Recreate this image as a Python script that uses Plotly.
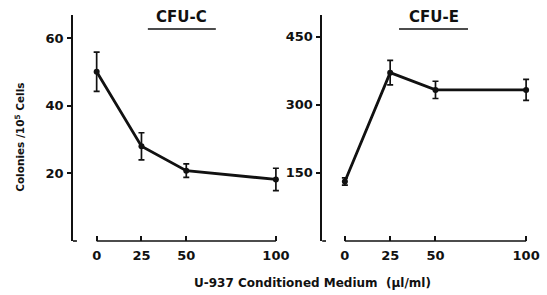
import plotly.graph_objects as go

# Data
dose = [0, 25, 50, 100]
cfu_c = [50, 28, 20.8, 18.2]
cfu_c_err = [5.8, 4.0, 2.0, 3.3]
cfu_e = [131, 371, 333, 333]
cfu_e_err = [8, 27, 19, 23]
x_ticks = [0, 25, 50, 100]
x_ticklabels = ["0", "25", "50", "100"]
c_ticks = [20, 40, 60]
e_ticks = [150, 300, 450]

FONT = "DejaVu Sans"
BLACK = "#111111"
W, H = 547, 295
L, R, T, B = 73, 7, 15, 54
PW, PH = W - L - R, H - T - B


def px(xp):
    return (xp - L) / PW


def py(yp):
    return (H - B - yp) / PH


fig = go.Figure()
for xs, ys, es, xa, ya in [(dose, cfu_c, cfu_c_err, "x", "y"), (dose, cfu_e, cfu_e_err, "x2", "y2")]:
    fig.add_trace(go.Scatter(
        x=xs, y=ys, xaxis=xa, yaxis=ya, mode="lines+markers",
        line=dict(color=BLACK, width=2.8),
        marker=dict(color=BLACK, size=6),
        error_y=dict(type="data", array=es, visible=True, color=BLACK, thickness=1.7, width=3),
        showlegend=False, cliponaxis=False,
    ))

tickfont = dict(family=FONT, size=13, color=BLACK, weight="bold")
xcommon = dict(tickvals=x_ticks, ticktext=x_ticklabels, ticks="inside", ticklen=5, tickwidth=1.5,
               tickcolor=BLACK, showline=False, showgrid=False, zeroline=False,
               tickfont=tickfont, ticklabelstandoff=5)
ycommon = dict(ticks="outside", ticklen=4, tickwidth=1.5, tickcolor=BLACK, showline=True,
               linecolor=BLACK, linewidth=1.6, showgrid=False, zeroline=False,
               tickfont=tickfont, ticklabelstandoff=1)

fig.update_layout(
    width=W, height=H,
    margin=dict(l=L, r=R, t=T, b=B),
    paper_bgcolor="white", plot_bgcolor="white",
    xaxis=dict(domain=[0, px(295)], range=[-13.2, 108.8], anchor="y", **xcommon),
    yaxis=dict(domain=[0, 1], range=[0, 66.8], tickvals=c_ticks, anchor="x", **ycommon),
    xaxis2=dict(domain=[px(326), 1], range=[-12.5, 103.8], anchor="y2", **xcommon),
    yaxis2=dict(domain=[0, 1], range=[0, 498], tickvals=e_ticks, anchor="x2", **ycommon),
)

# x-axis lines spanning the data range only, and small feet on y axes
for xa, ya in [("x", "y"), ("x2", "y2")]:
    fig.add_shape(type="line", xref=xa, yref=ya + " domain", x0=0, x1=100, y0=0, y1=0,
                  line=dict(color=BLACK, width=1.5))
    fig.add_shape(type="line", xref=xa + " domain", yref=ya + " domain", x0=0, x1=0.018, y0=0, y1=0,
                  line=dict(color=BLACK, width=1.6))

# Panel titles with underlines
for txt, cx, cy, u0, u1 in [("CFU-C", 183, 17.5, 149, 218), ("CFU-E", 439, 17.5, 404, 474)]:
    fig.add_annotation(text=txt, xref="paper", yref="paper", x=px(cx), y=py(cy),
                       showarrow=False, font=dict(family=FONT, size=15, color=BLACK, weight="bold"),
                       xanchor="center", yanchor="middle")
    fig.add_shape(type="line", xref="paper", yref="paper", x0=px(u0), x1=px(u1), y0=py(29), y1=py(29),
                  line=dict(color=BLACK, width=1.6))

# Axis titles
fig.add_annotation(text="U-937 Conditioned Medium  (µl/ml)", xref="paper", yref="paper",
                   x=px(316), y=py(283), showarrow=False,
                   font=dict(family=FONT, size=12, color=BLACK, weight="bold"),
                   xanchor="center", yanchor="middle")
fig.add_annotation(text="Colonies /10<sup>5</sup> Cells", xref="paper", yref="paper",
                   x=px(18), y=py(137), showarrow=False, textangle=-90,
                   font=dict(family=FONT, size=10.5, color=BLACK, weight="bold"),
                   xanchor="center", yanchor="middle")

fig.write_html("out.html", config={"displayModeBar": False},
               post_script="document.body.style.margin='0px';")
